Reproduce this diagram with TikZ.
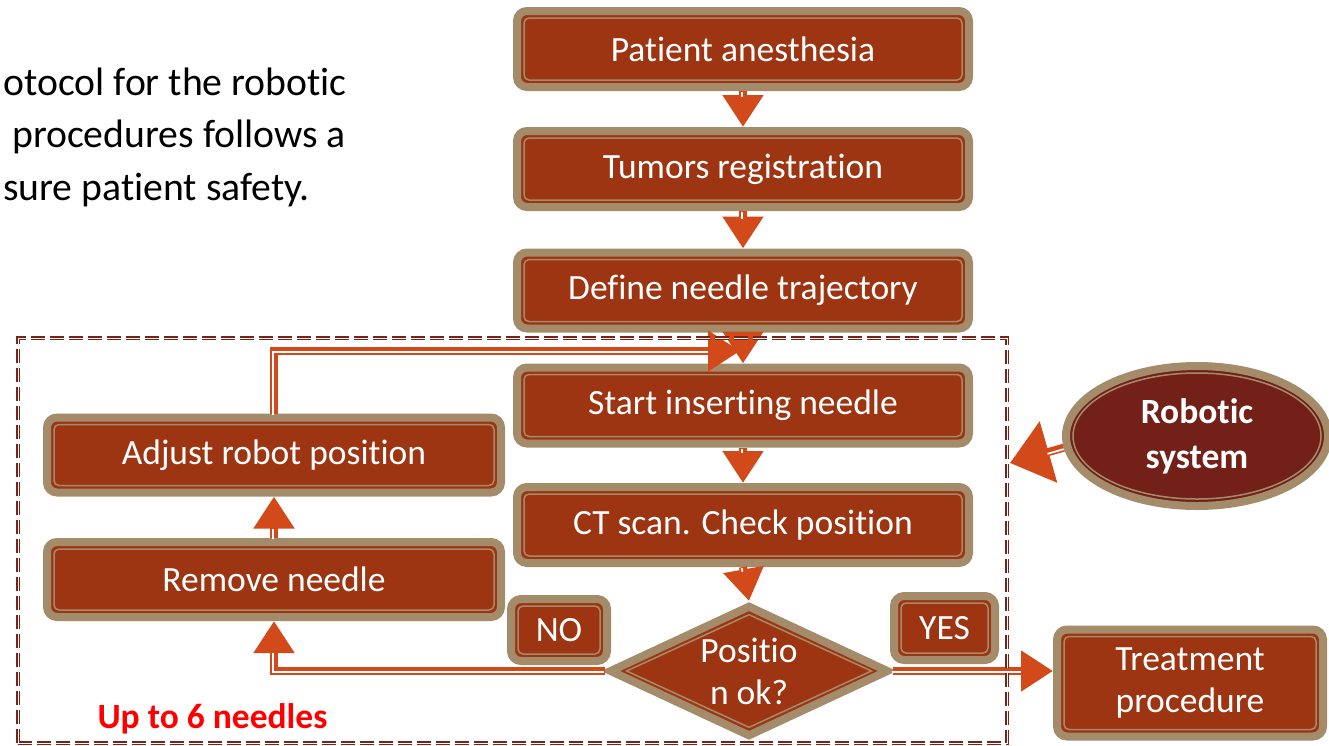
\documentclass[tikz,border=0pt]{standalone}
\usepackage{fontspec}
\setmainfont{Carlito}[Ligatures=NoCommon]
\usetikzlibrary{arrows.meta,shapes.geometric}
\definecolor{brick}{RGB}{157,53,18}
\definecolor{tanc}{RGB}{164,140,106}
\definecolor{arrowc}{RGB}{210,74,26}
\definecolor{robotc}{RGB}{114,32,24}
\definecolor{dashc}{RGB}{122,34,24}
\newcommand\boxfont{\fontsize{35.5pt}{42pt}\selectfont}
\newcommand\ellfont{\fontsize{35.5pt}{45pt}\selectfont}
\newcommand\parafont{\fontsize{39.7pt}{52pt}\selectfont}
\begin{document}
\begin{tikzpicture}[x=1pt,y=-1pt,
  base/.style={draw=tanc, line width=8pt, fill=brick, text=white, font=\boxfont, align=center, inner sep=0pt},
  box/.style={base, rectangle, rounded corners=10pt, minimum width=452pt, minimum height=76pt,
    path picture={\draw[tanc, line width=1.5pt, rounded corners=5pt]
      ([shift={(7pt,-7pt)}]path picture bounding box.north west) rectangle
      ([shift={(-7pt,7pt)}]path picture bounding box.south east);}},
  lbox/.style={box, minimum width=454pt, minimum height=75pt},
  dia/.style={base, diamond, shape aspect=2.2, minimum width=280pt, minimum height=132pt,
    path picture={\draw[tanc, line width=1.5pt]
      ([yshift=-8pt]path picture bounding box.north) --
      ([xshift=-16pt]path picture bounding box.east) --
      ([yshift=8pt]path picture bounding box.south) --
      ([xshift=16pt]path picture bounding box.west) -- cycle;}},
  ell/.style={base, ellipse, fill=robotc, font=\ellfont\bfseries, minimum width=262pt, minimum height=140pt,
    path picture={\draw[tanc, line width=1.5pt] (path picture bounding box.center)
      ellipse [x radius=124pt, y radius=63pt];}},
  conn/.style={draw=arrowc, line width=8pt, line join=miter,
    -{Triangle[width=39pt,length=32pt]},
    postaction={draw=white, line width=1.8pt, -, shorten >=31pt,
      transform canvas={shift={(-1.2pt,-1.2pt)}}}},
  bigconn/.style={draw=arrowc, line width=8pt,
    -{Triangle[width=62pt,length=40pt]},
    postaction={draw=white, line width=1.8pt, -, shorten >=39pt,
      transform canvas={shift={(0pt,-1.5pt)}}}}
]
\useasboundingbox (0,0) rectangle (1329,745);

% paragraph fragment
\node[anchor=base east, font=\parafont, inner sep=0pt] (p1) at (347,95) {otocol for the robotic};
\node[anchor=base east, font=\parafont, inner sep=0pt] (p2) at (346,147.5) {procedures follows a};
\node[anchor=base west, font=\parafont, inner sep=0pt] (p3) at (3,200) {sure patient safety.};

% main column
\node[box] (pa) at (743,49) {Patient anesthesia};
\node[box] (tr) at (743,169) {Tumors registration};
\node[box] (dn) at (743,290.5) {Define needle trajectory};
\node[box] (si) at (743,405.5) {Start inserting needle};
\node[box] (ct) at (743,525) {CT scan. Check position};
\node[dia] (dia) at (749,671) {Positio\\n ok?};

% left column
\node[lbox] (adj) at (274,455) {Adjust robot position};
\node[lbox] (rm) at (274,579.5) {Remove needle};

% labels
\node[box, minimum width=96pt, minimum height=62pt] (no) at (559,630) {NO};
\node[box, minimum width=101pt, minimum height=64pt] (yes) at (944.5,628) {YES};

% treatment and robot
\node[box, minimum width=266pt, minimum height=107pt] (treat) at (1190,683) {Treatment\\procedure};
\node[ell] (robot) at (1197,436) {Robotic\\system};

\node[anchor=base, font=\boxfont\bfseries, text=red, inner sep=0pt] (lbl) at (212.5,728) {Up to 6 needles};

% connectors
\coordinate (loopend) at (740,351);
\coordinate (robin) at (1010,463);
\draw[conn] (pa.south) -- (tr.north);
\draw[conn] (tr.south) -- (dn.north);
\draw[conn] (dn.south) -- (si.north);
\draw[conn] (si.south) -- (ct.north);
\draw[conn] (ct.south) -- (dia.north);
\draw[conn] (dia.west) -| (rm.south);
\draw[conn] (rm.north) -- (adj.south);
\draw[conn] (adj.north) |- (loopend);
\draw[conn] (dia.east) -- (dia.east -| treat.west);
\draw[bigconn] (robot.185) -- (robin);

% dashed group
\node[draw=dashc, line width=1.8pt, double=white, double distance=1pt, dash pattern=on 14pt off 5pt,
  inner sep=0pt, minimum width=989pt, minimum height=405pt] (grp) at (512.5,540.5) {};
\end{tikzpicture}
\end{document}
